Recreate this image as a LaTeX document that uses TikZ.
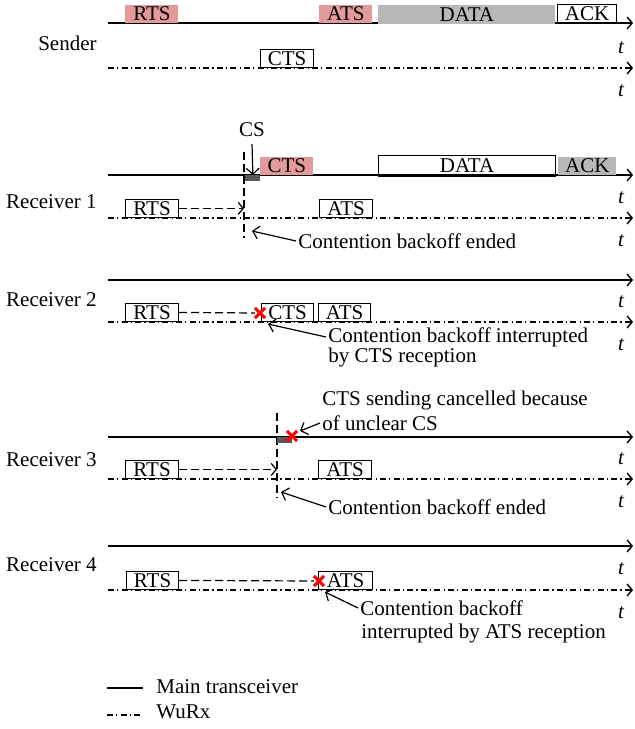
\documentclass[tikz,border=0pt]{standalone}
\usepackage{fontspec}
\setmainfont{Liberation Serif}
\usetikzlibrary{arrows.meta,shapes.misc}
\definecolor{pinkbox}{HTML}{E29A9A}
\definecolor{graybox}{HTML}{B8B8B8}
\definecolor{darkbox}{HTML}{5A5A5A}
\begin{document}
\begin{tikzpicture}[x=0.5pt,y=-0.5pt,font=\fontsize{10.5}{12}\selectfont,
  axtip/.style={-{Straight Barb[length=2.5pt,width=6pt]}},
  mainln/.style={line width=0.7pt,axtip},
  wurxln/.style={line width=0.7pt,dash pattern=on 3pt off 1.6pt on 0.6pt off 1.6pt,axtip},
  dashln/.style={line width=0.6pt,dash pattern=on 4pt off 2pt},
  dasharr/.style={dashln,-{Straight Barb[length=2.5pt,width=6pt]}},
  ann/.style={line width=0.6pt,-{Straight Barb[length=3pt,width=6.5pt]}},
  pkt/.style={minimum width=26.5pt,minimum height=9pt,inner sep=0pt,anchor=south west},
  pkto/.style={pkt,draw,line width=0.6pt},
  pktp/.style={pkt,fill=pinkbox},
  pktg/.style={pkt,fill=graybox},
  csbox/.style={fill=darkbox,minimum width=7.5pt,minimum height=3pt,inner sep=0pt,anchor=north west},
  redx/.style={cross out,draw=red,line width=1.5pt,minimum size=3.6pt,inner sep=0pt},
  tlab/.style={font=\fontsize{10.5}{12}\itshape},
  rowlab/.style={anchor=east,inner sep=0pt},
  txt/.style={anchor=west,inner sep=1pt}]
\useasboundingbox (0,0) rectangle (634,729);

% ---------------- Sender ----------------
\coordinate (s-m0) at (108,23);  \coordinate (s-m1) at (633,23);
\coordinate (s-w0) at (108,68);  \coordinate (s-w1) at (633,68);
\draw[mainln] (s-m0) -- (s-m1);
\draw[wurxln] (s-w0) -- (s-w1);
\node[pktp] (s-rts) at (125,23) {RTS};
\node[pktp] (s-ats) at (319,23) {ATS};
\node[pktg,minimum width=88.5pt,minimum height=9.5pt] (s-data) at (378,24) {DATA};
\node[pkto,minimum width=29.5pt] (s-ack) at (557,23) {ACK};
\node[pkto] (s-cts) at (260,68) {CTS};
\node[rowlab] (s-lab) at (97,43) {Sender};
\node[tlab] (s-t1) at (621,48) {t};
\node[tlab] (s-t2) at (621,91) {t};

% ---------------- Receiver 1 ----------------
\coordinate (r1-m0) at (108,175); \coordinate (r1-m1) at (633,175);
\coordinate (r1-w0) at (108,218); \coordinate (r1-w1) at (633,218);
\coordinate (r1-vt) at (244,152); \coordinate (r1-vb) at (244,238);
\draw[mainln] (r1-m0) -- (r1-m1);
\draw[wurxln] (r1-w0) -- (r1-w1);
\draw[dashln] (r1-vt) -- (r1-vb);
\node[csbox] (r1-cs) at (245,175) {};
\node[pktp] (r1-cts) at (260,175) {CTS};
\node[pkto,minimum width=88.5pt,minimum height=10.5pt] (r1-data) at (378,177) {DATA};
\node[pktg,minimum width=29pt] (r1-ack) at (558,175) {ACK};
\node[pkto] (r1-rts) at (125,218) {RTS};
\node[pkto] (r1-ats) at (319,218) {ATS};
\draw[dasharr] (r1-rts.east) -- (r1-rts.east -| r1-vt);
\node (r1-cslab) at (252,130) {CS};
\draw[ann] (r1-cslab.south) -- (r1-cs.north);
\node[rowlab] (r1-lab) at (97,202) {Receiver 1};
\node[txt] (r1-cb) at (296,241) {Contention backoff ended};
\coordinate (r1-cbend) at (252,231);
\draw[ann] (r1-cb.west) -- (r1-cbend);
\node[tlab] (r1-t1) at (621,198) {t};
\node[tlab] (r1-t2) at (621,241) {t};

% ---------------- Receiver 2 ----------------
\coordinate (r2-m0) at (108,280); \coordinate (r2-m1) at (633,280);
\coordinate (r2-w0) at (108,322); \coordinate (r2-w1) at (633,322);
\draw[mainln] (r2-m0) -- (r2-m1);
\draw[wurxln] (r2-w0) -- (r2-w1);
\node[pkto] (r2-rts) at (125,322) {RTS};
\node[pkto,minimum width=26pt] (r2-cts) at (261,322) {CTS};
\node[pkto,minimum width=26pt] (r2-ats) at (318,322) {ATS};
\node[redx] (r2-x) at (260,313) {};
\draw[dashln] (r2-rts.east) -- (r2-x.west);
\node[rowlab] (r2-lab) at (97,300) {Receiver 2};
\node[txt] (r2-cb1) at (326,337) {Contention backoff interrupted};
\node[txt] (r2-cb2) at (326,357) {by CTS reception};
\coordinate (r2-cbend) at (268,324);
\draw[ann] (r2-cb1.west) -- (r2-cbend);
\node[tlab] (r2-t1) at (621,302) {t};
\node[tlab] (r2-t2) at (621,345) {t};

% ---------------- Receiver 3 ----------------
\coordinate (r3-m0) at (108,437); \coordinate (r3-m1) at (633,437);
\coordinate (r3-w0) at (108,479); \coordinate (r3-w1) at (633,479);
\coordinate (r3-vt) at (277,413); \coordinate (r3-vb) at (277,498);
\draw[mainln] (r3-m0) -- (r3-m1);
\draw[wurxln] (r3-w0) -- (r3-w1);
\draw[dashln] (r3-vt) -- (r3-vb);
\node[csbox] (r3-cs) at (277,437) {};
\node[redx] (r3-x) at (292,436) {};
\node[pkto] (r3-rts) at (125,479) {RTS};
\node[pkto] (r3-ats) at (318,479) {ATS};
\draw[dasharr] (r3-rts.east) -- (r3-rts.east -| r3-vt);
\node[txt] (r3-c1) at (320,400) {CTS sending cancelled because};
\node[txt] (r3-c2) at (320,423) {of unclear CS};
\coordinate (r3-cend) at (300,431);
\draw[ann] (r3-c2.west) -- (r3-cend);
\node[rowlab] (r3-lab) at (97,460) {Receiver 3};
\node[txt] (r3-cb) at (326,507) {Contention backoff ended};
\coordinate (r3-cbend) at (281,492);
\draw[ann] (r3-cb.west) -- (r3-cbend);
\node[tlab] (r3-t1) at (621,459) {t};
\node[tlab] (r3-t2) at (621,502) {t};

% ---------------- Receiver 4 ----------------
\coordinate (r4-m0) at (108,546); \coordinate (r4-m1) at (633,546);
\coordinate (r4-w0) at (108,590); \coordinate (r4-w1) at (633,590);
\draw[mainln] (r4-m0) -- (r4-m1);
\draw[wurxln] (r4-w0) -- (r4-w1);
\node[pkto,minimum width=26pt] (r4-rts) at (126,590) {RTS};
\node[pkto,minimum width=27pt] (r4-ats) at (318,590) {ATS};
\node[redx] (r4-x) at (319,581) {};
\draw[dashln] (r4-rts.east) -- (r4-x.west);
\node[rowlab] (r4-lab) at (97,565) {Receiver 4};
\node[txt] (r4-cb1) at (358,608) {Contention backoff};
\node[txt] (r4-cb2) at (359,633) {interrupted by ATS reception};
\coordinate (r4-cbend) at (325,592);
\draw[ann] (r4-cb1.west) -- (r4-cbend);
\node[tlab] (r4-t1) at (621,569) {t};
\node[tlab] (r4-t2) at (621,613) {t};

% ---------------- Legend ----------------
\coordinate (lg-a0) at (107,688); \coordinate (lg-a1) at (143,688);
\coordinate (lg-b0) at (107,715); \coordinate (lg-b1) at (143,715);
\draw[line width=0.7pt] (lg-a0) -- (lg-a1);
\draw[line width=0.7pt,dash pattern=on 3pt off 1.6pt on 0.6pt off 1.6pt] (lg-b0) -- (lg-b1);
\node[txt] (lg-main) at (154,687) {Main transceiver};
\node[txt] (lg-wurx) at (154,712) {WuRx};
\end{tikzpicture}
\end{document}
